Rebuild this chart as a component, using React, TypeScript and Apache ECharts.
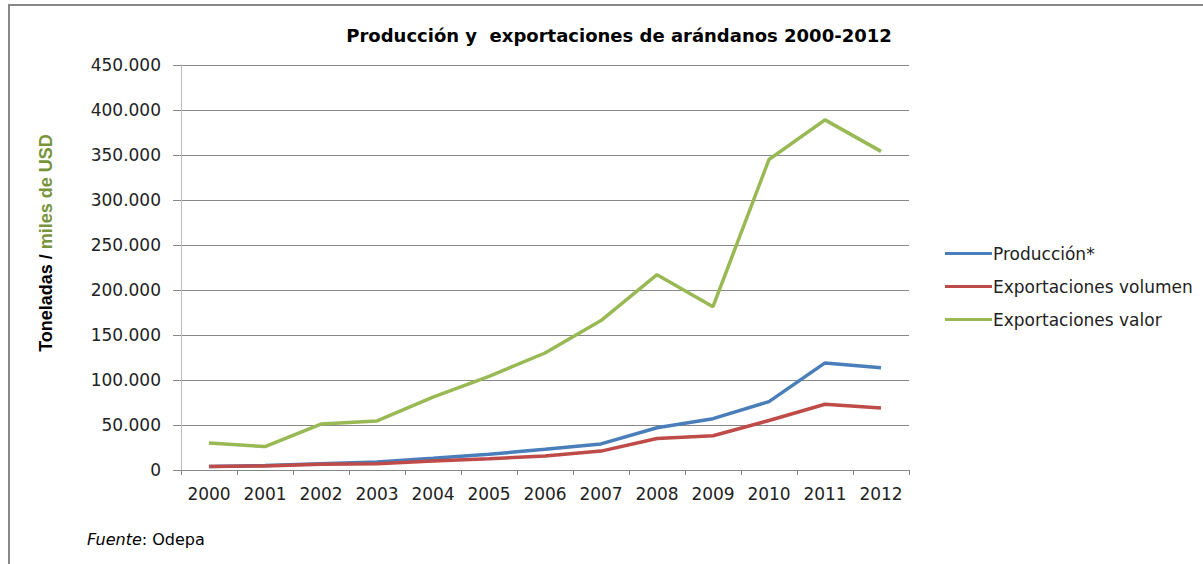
import React, { useEffect, useRef } from "react";
import * as echarts from "echarts";

const years = ["2000","2001","2002","2003","2004","2005","2006","2007","2008","2009","2010","2011","2012"];
const produccion = [4000, 5000, 7000, 9000, 13000, 17500, 23000, 29000, 47000, 57000, 76000, 119000, 113500];
const exportVolumen = [4000, 4500, 6500, 7000, 10000, 12500, 15500, 21000, 35000, 38000, 55000, 73000, 69000];
const exportValor = [30000, 26000, 51000, 54500, 81000, 104000, 130000, 166000, 217000, 181500, 345000, 389000, 354000];
const seriesNames = ["Producción*", "Exportaciones volumen", "Exportaciones valor"];
const colors = ["#4A7EBB", "#BE4B48", "#98B954"];

const fmt = (v: number) => (v === 0 ? "0" : v.toLocaleString("de-DE"));

export default function App() {
  const ref = useRef<HTMLDivElement>(null);
  useEffect(() => {
    if (!ref.current) return;
    const chart = echarts.init(ref.current, null, { renderer: "svg" });
    const lbl = "'DejaVu Sans', sans-serif";
    chart.setOption({
      animation: false,
      backgroundColor: "#fff",
      title: {
        text: "Producción y  exportaciones de arándanos 2000-2012",
        left: 614,
        textAlign: "center",
        top: 21,
        textStyle: { fontFamily: "'DejaVu Sans', sans-serif", fontWeight: "bold", fontSize: 18, color: "#000" },
      },
      legend: {
        orient: "vertical",
        left: 940,
        top: 240,
        itemGap: 16,
        itemWidth: 47,
        itemHeight: 3,
        icon: "rect",
        textStyle: { fontFamily: lbl, fontSize: 17, color: "#222", padding: [0, 0, 0, -4] },
        data: seriesNames,
      },
      grid: { left: 181, right: 1203 - 909, top: 65, bottom: 564 - 470 },
      xAxis: {
        type: "category",
        data: years,
        boundaryGap: true,
        axisLine: { lineStyle: { color: "#888" } },
        axisTick: { show: true, length: 5, lineStyle: { color: "#888" } },
        axisLabel: { fontFamily: lbl, fontSize: 17, color: "#222", margin: 15, interval: 0 },
      },
      yAxis: {
        type: "value",
        min: 0,
        max: 450000,
        interval: 50000,
        axisLine: { show: true, lineStyle: { color: "#bbb" } },
        axisTick: { show: true, length: 8, lineStyle: { color: "#888" } },
        axisLabel: { fontFamily: lbl, fontSize: 17, color: "#222", margin: 20, formatter: fmt },
        splitLine: { lineStyle: { color: "#888" } },
      },
      series: [produccion, exportVolumen, exportValor].map((d, i) => ({
        name: seriesNames[i],
        type: "line",
        data: d,
        symbol: "none",
        lineStyle: { width: 3.5, color: colors[i] },
        itemStyle: { color: colors[i] },
      })),
      graphic: [
        {
          type: "rect",
          shape: { x: 9, y: 5, width: 1300, height: 700 },
          style: { fill: "none", stroke: "#888", lineWidth: 2 },
          z: -1,
        },
        {
          type: "text",
          x: 46,
          y: 243,
          rotation: Math.PI / 2,
          style: {
            text: "{a|Toneladas / }{b|miles de USD}",
            align: "center",
            verticalAlign: "middle",
            rich: {
              a: { fontFamily: "'Liberation Sans', Arial, sans-serif", fontWeight: "bold", fontSize: 18, fill: "#000" },
              b: { fontFamily: "'Liberation Sans', Arial, sans-serif", fontWeight: "bold", fontSize: 18, fill: "#77933C" },
            },
          },
        },
        {
          type: "text",
          left: 87,
          top: 531,
          style: {
            text: "{i|Fuente}{n|: Odepa}",
            rich: {
              i: { fontFamily: lbl, fontStyle: "italic", fontSize: 16, fill: "#000" },
              n: { fontFamily: lbl, fontSize: 16, fill: "#000" },
            },
          },
        },
      ],
    });
    return () => chart.dispose();
  }, []);
  return <div ref={ref} style={{ position: "absolute", left: 0, top: 0, width: 1203, height: 564 }} />;
}
